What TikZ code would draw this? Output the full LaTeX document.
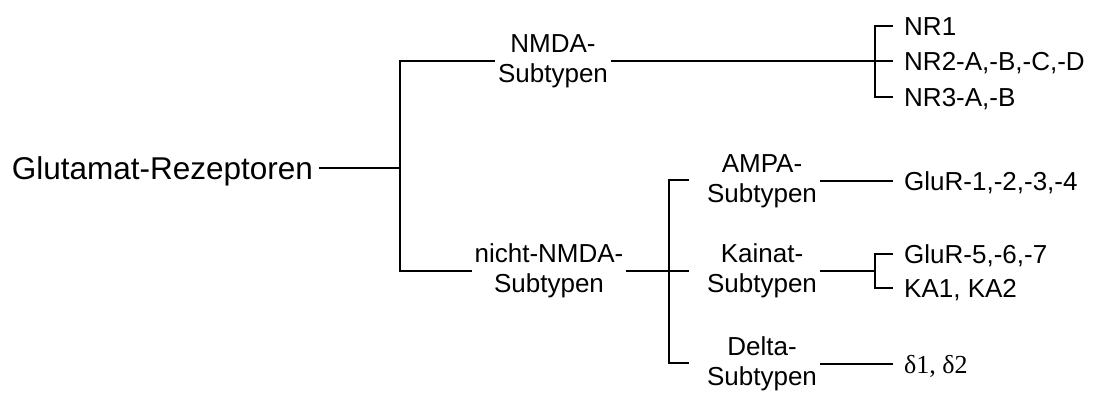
\documentclass[tikz,border=0pt]{standalone}
\usepackage{fontspec}
\setmainfont{Liberation Sans}
\newfontfamily\greekfont{Liberation Serif}

\begin{document}
\begin{tikzpicture}[
  x=1pt,
  y=-1pt,
  line width=2.4pt,
  font=\fontsize{26}{30}\selectfont,
  rootlabel/.style={font=\fontsize{31.5}{36}\selectfont, anchor=east,
    inner sep=0pt, outer xsep=6pt, text height=23pt, text depth=0pt},
  group/.style={align=center, inner sep=0pt, outer sep=3pt},
  leaf/.style={anchor=west, inner xsep=10pt, inner ysep=0pt,
    text height=19pt, text depth=0pt}
]
  \useasboundingbox (0,0) rectangle (1093,392);

  % root and first split
  \node[rootlabel] (root) at (319,168) {Glutamat-Rezeptoren};
  \coordinate (jroot) at (400,168);
  \node[group] (nmda) at (553,61) {NMDA-\\Subtypen};
  \node[group] (nonnmda) at (549,271) {nicht-NMDA-\\Subtypen};

  % NMDA subunits
  \coordinate (jnmda) at (875,61);
  \node[leaf] (nr1) at (893,26) {NR1};
  \node[leaf] (nr2) at (893,61) {NR2-A,-B,-C,-D};
  \node[leaf] (nr3) at (893,97) {NR3-A,-B};

  % non-NMDA families
  \coordinate (jsub) at (669,271);
  \coordinate (tampa) at (689,180);
  \coordinate (tkainat) at (689,271);
  \coordinate (tdelta) at (689,363);
  \node[group] (ampa) at (762,181) {AMPA-\\Subtypen};
  \node[group] (kainat) at (762,271) {Kainat-\\Subtypen};
  \node[group] (delta) at (762,364) {Delta-\\Subtypen};

  \node[leaf] (glur14) at (893,181) {GluR-1,-2,-3,-4};
  \coordinate (jkainat) at (875,271);
  \node[leaf] (glur57) at (893,254) {GluR-5,-6,-7};
  \node[leaf] (ka12) at (893,288) {KA1, KA2};
  \node[leaf] (delta12) at (893,364) {{\greekfont δ1, δ2}};

  \draw (root.east) -- (jroot);
  \draw (nmda.west) -| (jroot) |- (nonnmda.west);

  \draw (nmda.east) -- (jnmda);
  \draw (nr1.west) -| (jnmda) |- (nr3.west);
  \draw (jnmda) -- (nr2.west);

  \draw (nonnmda.east) -- (jsub);
  \draw (tampa) -| (jsub) |- (tdelta);
  \draw (jsub) -- (tkainat);

  \draw (ampa.east) -- (glur14.west);
  \draw (kainat.east) -- (jkainat);
  \draw (glur57.west) -| (jkainat) |- (ka12.west);
  \draw (delta.east) -- (delta12.west);
\end{tikzpicture}
\end{document}
